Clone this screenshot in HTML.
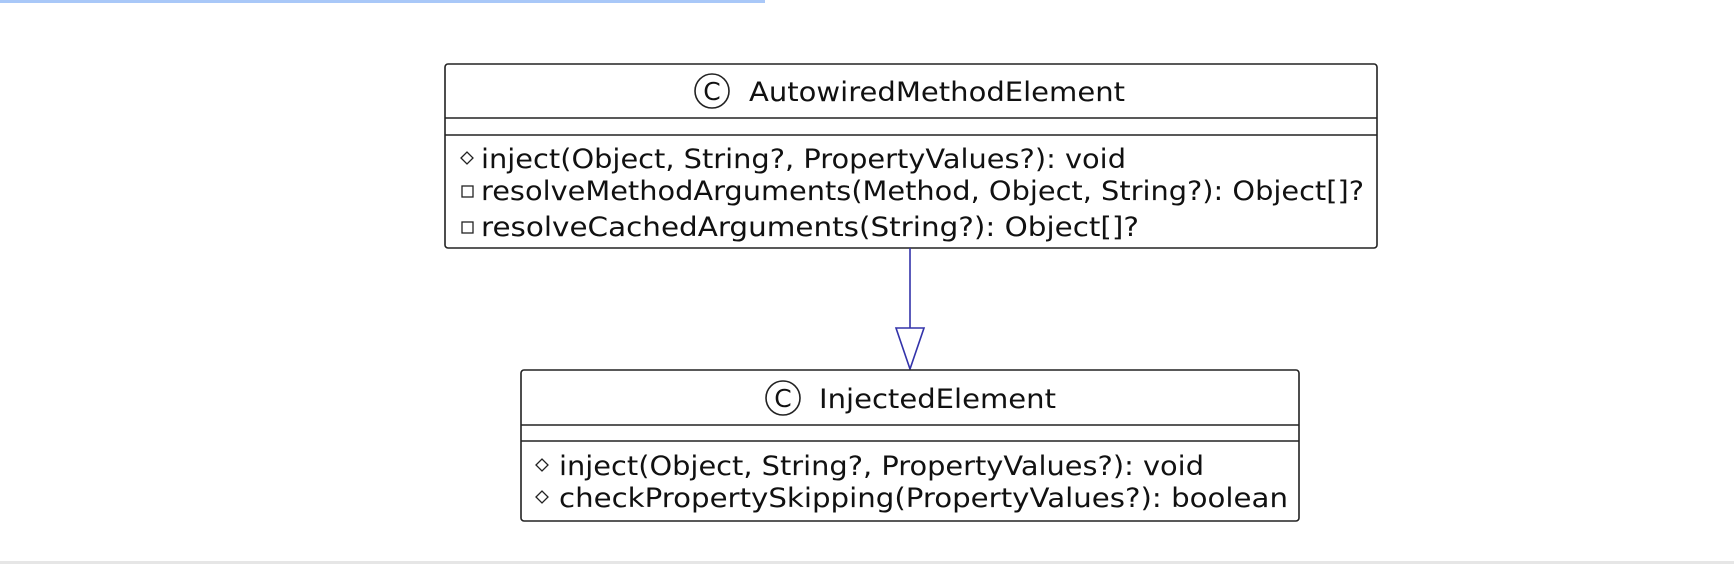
<!DOCTYPE html>
<html><head><meta charset="utf-8"><style>
html,body{margin:0;padding:0;background:#fff;}
svg{display:block}
text{font-family:"DejaVu Sans","Liberation Sans",sans-serif;fill:#111;}
</style></head><body>
<svg width="1734" height="564" viewBox="0 0 1734 564" xmlns="http://www.w3.org/2000/svg">
<rect x="0" y="0" width="765" height="3" fill="#a9c8f8"/>
<rect x="0" y="561" width="1734" height="3" fill="#e6e6e6"/>

<rect x="445" y="64" width="932" height="184" rx="3" fill="#fff" stroke="#222" stroke-width="1.6"/>
<line x1="445" y1="118" x2="1377" y2="118" stroke="#222" stroke-width="1.6"/>
<line x1="445" y1="135" x2="1377" y2="135" stroke="#222" stroke-width="1.6"/>
<circle cx="712" cy="91" r="17" fill="none" stroke="#222" stroke-width="1.6"/>
<text x="712" y="100" font-size="25" text-anchor="middle" font-family="Liberation Sans, sans-serif">C</text>
<text x="749" y="101" font-size="27" textLength="376" lengthAdjust="spacingAndGlyphs">AutowiredMethodElement</text>
<path d="M461 158 L467 152 L473 158 L467 164 Z" fill="none" stroke="#222" stroke-width="1.3"/>
<text x="481" y="168" font-size="27" textLength="645" lengthAdjust="spacingAndGlyphs">inject(Object, String?, PropertyValues?): void</text>
<rect x="462" y="186" width="11" height="11" fill="none" stroke="#222" stroke-width="1.3"/>
<text x="481" y="200" font-size="27" textLength="883" lengthAdjust="spacingAndGlyphs">resolveMethodArguments(Method, Object, String?): Object[]?</text>
<rect x="462" y="222" width="11" height="11" fill="none" stroke="#222" stroke-width="1.3"/>
<text x="481" y="236" font-size="27" textLength="658" lengthAdjust="spacingAndGlyphs">resolveCachedArguments(String?): Object[]?</text>

<line x1="910" y1="248" x2="910" y2="328" stroke="#3333aa" stroke-width="1.6"/>
<path d="M896 328 L924 328 L910 369 Z" fill="#fff" stroke="#3333aa" stroke-width="1.6"/>

<rect x="521" y="370" width="778" height="151" rx="3" fill="#fff" stroke="#222" stroke-width="1.6"/>
<line x1="521" y1="425" x2="1299" y2="425" stroke="#222" stroke-width="1.6"/>
<line x1="521" y1="441" x2="1299" y2="441" stroke="#222" stroke-width="1.6"/>
<circle cx="783" cy="398" r="17" fill="none" stroke="#222" stroke-width="1.6"/>
<text x="783" y="407" font-size="25" text-anchor="middle" font-family="Liberation Sans, sans-serif">C</text>
<text x="819" y="408" font-size="27" textLength="237" lengthAdjust="spacingAndGlyphs">InjectedElement</text>
<path d="M536 465 L542 459 L548 465 L542 471 Z" fill="none" stroke="#222" stroke-width="1.3"/>
<text x="559" y="475" font-size="27" textLength="645" lengthAdjust="spacingAndGlyphs">inject(Object, String?, PropertyValues?): void</text>
<path d="M536 497 L542 491 L548 497 L542 503 Z" fill="none" stroke="#222" stroke-width="1.3"/>
<text x="559" y="507" font-size="27" textLength="729" lengthAdjust="spacingAndGlyphs">checkPropertySkipping(PropertyValues?): boolean</text>
</svg>
</body></html>
